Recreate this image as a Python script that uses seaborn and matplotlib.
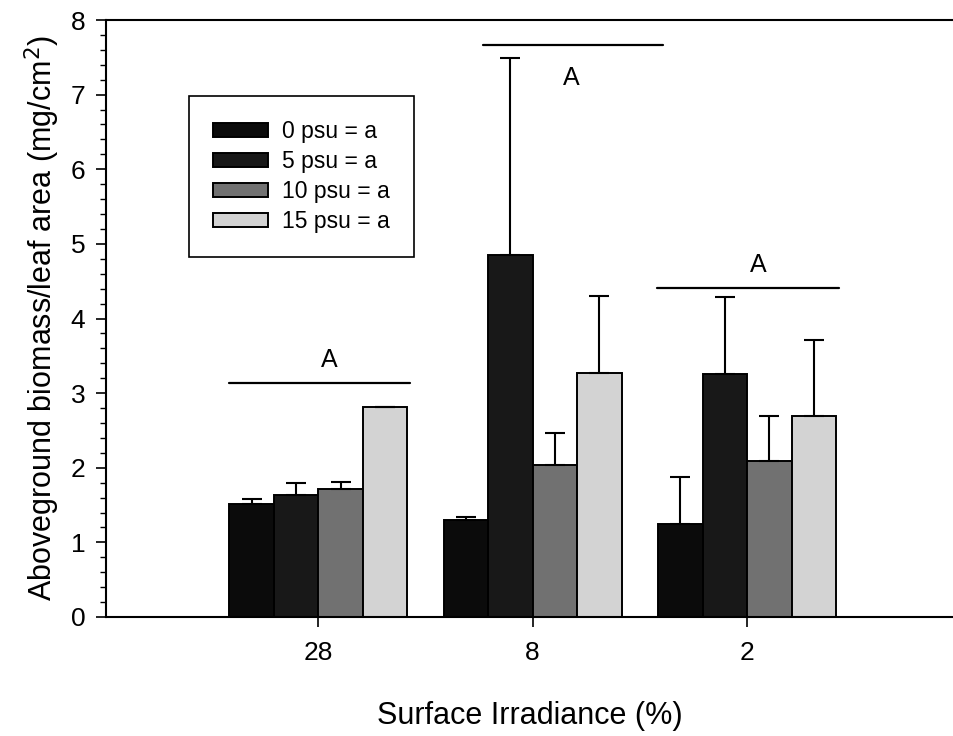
import numpy as np
import pandas as pd
import matplotlib
matplotlib.use("Agg")
import matplotlib.pyplot as plt
import seaborn as sns
from matplotlib.ticker import MultipleLocator

# ---- data ----
irradiance = ["28", "8", "2"]
salinity = ["0 psu = a", "5 psu = a", "10 psu = a", "15 psu = a"]
means_0 = [1.51, 1.30, 1.25]
means_5 = [1.64, 4.85, 3.26]
means_10 = [1.72, 2.04, 2.09]
means_15 = [2.82, 3.27, 2.69]
err_0 = [0.07, 0.04, 0.63]
err_5 = [0.16, 2.64, 1.03]
err_10 = [0.09, 0.43, 0.60]
err_15 = [0.00, 1.03, 1.02]
sig_letters = ["A", "A", "A"]
sig_heights = [3.13, 7.67, 4.41]

colors = ["#0b0b0b", "#181818", "#717171", "#d3d3d3"]

sns.set_theme(style="white")
plt.rcParams['font.family'] = ['Liberation Sans', 'DejaVu Sans']
plt.rcParams['text.color'] = 'black'
plt.rcParams['axes.labelcolor'] = 'black'
plt.rcParams['xtick.color'] = 'black'
plt.rcParams['ytick.color'] = 'black'

rows = []
for lab, m in zip(salinity, [means_0, means_5, means_10, means_15]):
    for irr, v in zip(irradiance, m):
        rows.append({"irr": irr, "sal": lab, "val": v})
df = pd.DataFrame(rows)

fig = plt.figure(figsize=(9.54, 7.36), dpi=100)
ax = fig.add_axes([106 / 954, 1 - 617 / 736, 1 - 106 / 954, (617 - 20) / 736])

sns.barplot(data=df, x="irr", y="val", hue="sal", order=irradiance,
            hue_order=salinity, palette=colors, width=0.83, gap=0,
            errorbar=None, edgecolor="black", linewidth=1.4, ax=ax,
            saturation=1)

bar_containers = list(ax.containers)

# error bars (upper only) on the bar centres
errs = [err_0, err_5, err_10, err_15]
means = [means_0, means_5, means_10, means_15]
for k, cont in enumerate(bar_containers):
    xs = [p.get_x() + p.get_width() / 2 for p in cont.patches]
    e = np.array(errs[k])
    ax.errorbar(xs, means[k], yerr=[np.zeros_like(e), e], fmt="none",
                ecolor="black", elinewidth=1.5, capsize=7, capthick=1.5,
                zorder=1)

# significance lines and letters
line_spans = [(-0.415, 0.43), (-0.23, 0.61), (-0.42, 0.43)]
letter_dx = [0.05, 0.18, 0.05]
letter_y = [3.45, 7.22, 4.72]
for i in range(3):
    x0, x1 = line_spans[i]
    ax.plot([i + x0, i + x1], [sig_heights[i], sig_heights[i]],
            color="black", lw=1.6)
    ax.text(i + letter_dx[i], letter_y[i], sig_letters[i], ha="center",
            va="center", fontsize=18, color="black")

ax.set_xlim(-0.99, 2.965)
ax.set_ylim(0, 8)
ax.yaxis.set_major_locator(MultipleLocator(1))
ax.yaxis.set_minor_locator(MultipleLocator(0.2))
ax.tick_params(axis="both", which="major", direction="out", length=7,
               width=1.2, color="black", labelsize=19, bottom=True, left=True,
               labelcolor="black")
ax.tick_params(axis="y", which="minor", direction="out", length=4,
               width=1.0, color="black", left=True)
ax.tick_params(axis="x", pad=10)
ax.tick_params(axis="y", which="major", pad=8)

for s in ["left", "top", "bottom"]:
    ax.spines[s].set_visible(True)
    ax.spines[s].set_color("black")
    ax.spines[s].set_linewidth(1.5)
ax.spines["right"].set_visible(False)

ax.set_xlabel("Surface Irradiance (%)", fontsize=22, labelpad=26)
ax.set_ylabel("Aboveground biomass/leaf area (mg/cm$^2$)", fontsize=22,
              labelpad=6)

leg = ax.legend(loc="upper left", bbox_to_anchor=(189 / 954, 1 - 96 / 736),
                bbox_transform=fig.transFigure, borderaxespad=0,
                fontsize=16.5, handlelength=2.4, handleheight=0.57,
                labelspacing=0.3, handletextpad=0.6, borderpad=1.05,
                fancybox=False, framealpha=1, edgecolor="black", title=None)
leg.get_frame().set_linewidth(1.2)
for t in leg.get_texts():
    t.set_color("black")

fig.savefig("out.png", dpi=100)
